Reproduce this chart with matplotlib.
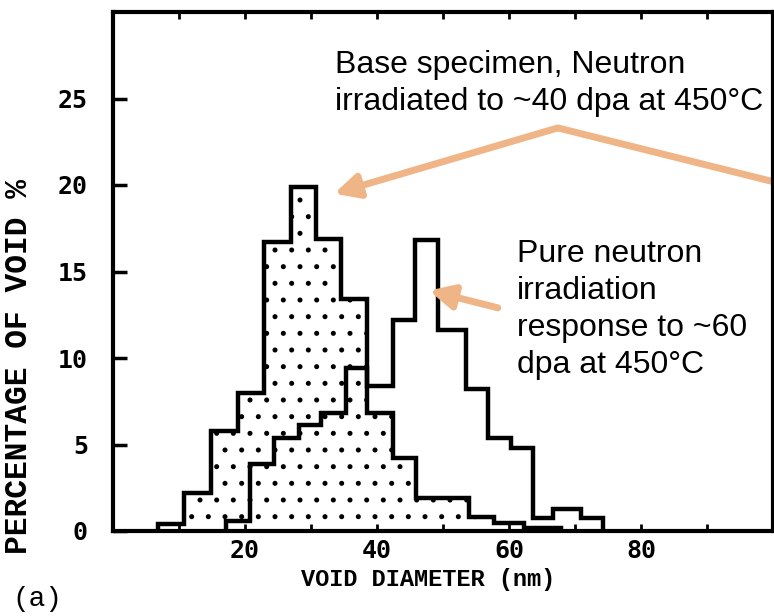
import matplotlib.pyplot as plt

# void size distributions (bin edges in nm, % of voids)
base_edges = [6.8, 10.8, 14.8, 18.9, 22.9, 27.0, 30.8, 34.5, 38.5, 42.4, 45.9, 54.0, 57.8, 62.3, 67.9]
base_pct = [0.4, 2.2, 5.8, 8.0, 16.7, 19.9, 16.9, 13.4, 6.8, 4.2, 1.9, 0.8, 0.45, 0.15]

pure_edges = [17.1, 20.7, 24.4, 28.2, 31.5, 35.3, 38.5, 42.4, 45.7, 49.2, 53.5, 56.8, 60.3, 63.6, 66.6, 70.9, 74.2]
pure_pct = [0.6, 3.9, 5.4, 6.1, 6.8, 9.4, 8.4, 12.2, 16.8, 11.6, 8.2, 5.4, 4.8, 0.75, 1.3, 0.75]

x_ticks = [20, 40, 60, 80]
y_ticks = [0, 5, 10, 15, 20, 25]

base_note = "Base specimen, Neutron\nirradiated to ~40 dpa at 450°C"
pure_note = "Pure neutron\nirradiation\nresponse to ~60\ndpa at 450°C"
arrow_col = '#EFB587'

plt.rcParams['hatch.linewidth'] = 1.2

fig = plt.figure(figsize=(7.74, 6.16), dpi=100)
ax = fig.add_axes([113/774, 85/616, 660/774, 519/616])

# stippled base specimen
ax.stairs(base_pct, base_edges, fill=True, facecolor='none', edgecolor='black',
          hatch='.', linewidth=0)
ax.stairs(base_pct, base_edges, baseline=0, color='black', linewidth=3.2)
ax.stairs(pure_pct, pure_edges, baseline=0, color='black', linewidth=3.2)

ax.set_xlim(0, 100)
ax.set_ylim(0, 30)
ax.set_xticks(x_ticks)
ax.set_xticks(range(10, 100, 10), minor=True)
ax.set_yticks(y_ticks)

mono = 'DejaVu Sans Mono'
ax.tick_params(axis='y', direction='in', length=10, width=2.5, pad=18, labelsize=18)
ax.tick_params(axis='x', which='both', direction='in', length=5, width=2, top=True,
               pad=6, labelsize=18)
for lab in ax.get_xticklabels() + ax.get_yticklabels():
    lab.set_fontfamily(mono)
    lab.set_fontweight('bold')

for s in ax.spines.values():
    s.set_linewidth(3)

ax.set_xlabel('VOID DIAMETER (nm)', fontfamily='Liberation Mono', fontweight='bold',
              fontsize=17)
ax.set_ylabel('PERCENTAGE OF VOID %', fontfamily='Liberation Mono', fontweight='bold',
              fontsize=22.5)
ax.xaxis.set_label_coords(0.477, -0.071)
ax.yaxis.set_label_coords(-0.12, 0.316)
fig.text(12/774, 1 - 612/616, '(a)', fontfamily='Liberation Mono', fontsize=20,
         ha='left', va='bottom')

# annotations
fig.text(335/774, 1 - 50/616, base_note, fontfamily='Liberation Sans', fontsize=23,
         ha='left', va='top', linespacing=1.3)
fig.text(517/774, 1 - 239/616, pure_note, fontfamily='Liberation Sans', fontsize=23,
         ha='left', va='top', linespacing=1.3)

apex = (67.4, 23.3)
ax.annotate('', xy=(33.5, 19.5), xytext=apex,
            arrowprops=dict(arrowstyle='-|>', lw=5, color=arrow_col, mutation_scale=36,
                            shrinkA=0, shrinkB=0), annotation_clip=False)
ax.plot([apex[0], 101], [apex[1], 20.1], color=arrow_col, lw=5, clip_on=False,
        solid_capstyle='butt')
ax.annotate('', xy=(47.9, 13.9), xytext=(58.3, 12.9),
            arrowprops=dict(arrowstyle='-|>', lw=5, color=arrow_col, mutation_scale=36,
                            shrinkA=0, shrinkB=0))

fig.savefig('out.png', dpi=100)
